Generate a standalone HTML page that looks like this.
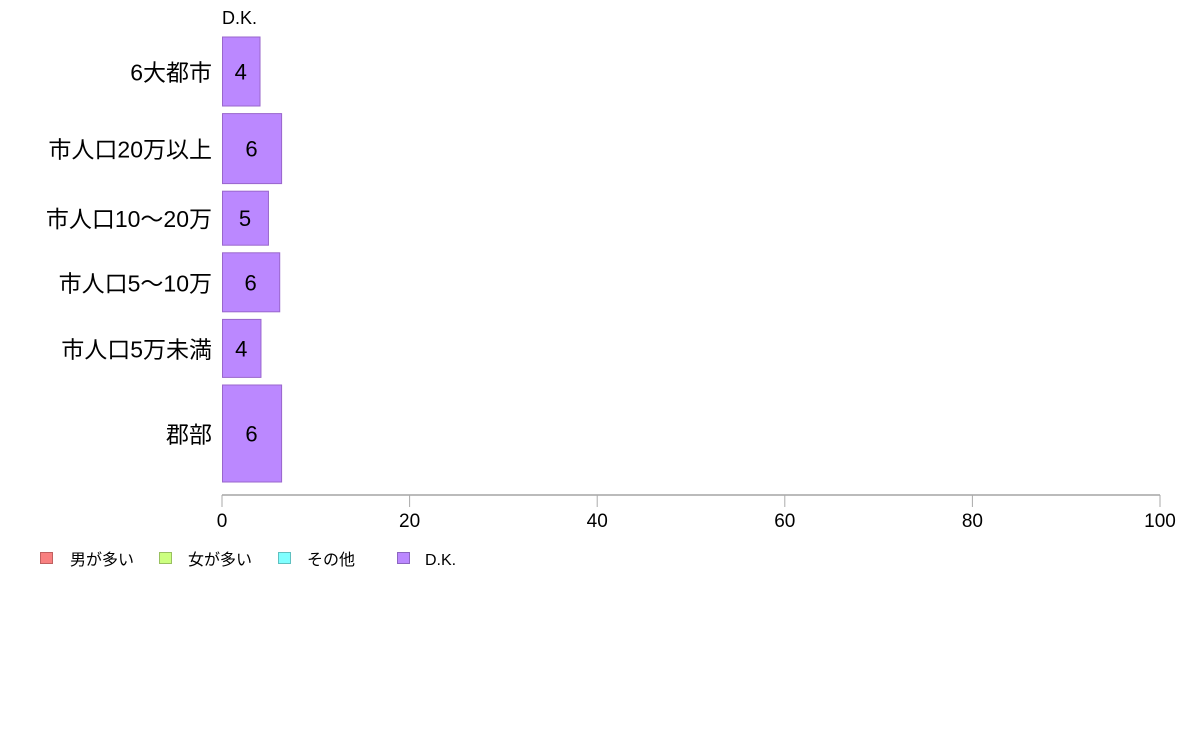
<!DOCTYPE html>
<html><head><meta charset="utf-8"><style>
body{margin:0;background:#fff;}
svg{display:block;font-family:"Liberation Sans","Noto Sans CJK JP",sans-serif;}
</style></head><body>
<svg id="chart" width="1188" height="736">
<text x="222" y="24" font-size="18" fill="#000">D.K.</text>
<g id="bars"></g>
<line x1="222" y1="495" x2="1160" y2="495" stroke="#777" stroke-width="1"/>
<g id="xticks"></g>
<g>
<rect x="40.5" y="552.5" width="12" height="11" fill="#f88080" stroke="#c06060"/>
<text x="70" y="565" font-size="16">男が多い</text>
<rect x="159.5" y="552.5" width="12" height="11" fill="#ccff80" stroke="#99c060"/>
<text x="188" y="565" font-size="16">女が多い</text>
<rect x="278.5" y="552.5" width="12" height="11" fill="#80ffff" stroke="#60c0c0"/>
<text x="307" y="565" font-size="16">その他</text>
<rect x="397.5" y="552.5" width="12" height="11" fill="#bb88ff" stroke="#8c66c0"/>
<text x="425" y="565" font-size="16">D.K.</text>
</g>
</svg>
<script>
const categories=["6大都市","市人口20万以上","市人口10〜20万","市人口5〜10万","市人口5万未満","郡部"];
const dkValues=[4.0,6.3,4.9,6.1,4.1,6.3];
const dkLabels=["4","6","5","6","4","6"];
const groupWeights=[69,70,54,59,58,97];
const xTicks=[0,20,40,60,80,100];
const NS="http://www.w3.org/2000/svg";
const plotX0=222,plotX1=1160,plotTop=37,plotBottom=482,barGap=7.6;
function xs(v){return plotX0+(v/100)*(plotX1-plotX0);}
const totalW=groupWeights.reduce((a,b)=>a+b,0);
const avail=plotBottom-plotTop-barGap*(categories.length-1);
const bars=document.getElementById('bars');
let yPos=plotTop;
categories.forEach((c,i)=>{
  const h=groupWeights[i]/totalW*avail;
  const r=document.createElementNS(NS,'rect');
  r.setAttribute('x',plotX0+0.5);r.setAttribute('y',yPos);
  r.setAttribute('width',xs(dkValues[i])-plotX0);r.setAttribute('height',h);
  r.setAttribute('fill','#bb88ff');r.setAttribute('stroke','#9966cc');
  
  
  bars.appendChild(r);
  const t=document.createElementNS(NS,'text');
  t.setAttribute('x',(plotX0+xs(dkValues[i]))/2);t.setAttribute('y',yPos+h/2+8);
  t.setAttribute('text-anchor','middle');t.setAttribute('font-size','22');
  t.textContent=dkLabels[i];
  
  
  bars.appendChild(t);
  const l=document.createElementNS(NS,'text');
  l.setAttribute('x',212);l.setAttribute('y',yPos+h/2+9);
  l.setAttribute('text-anchor','end');l.setAttribute('font-size','23');
  l.textContent=c;
  
  
  bars.appendChild(l);
  yPos+=h+barGap;
});
const xt=document.getElementById('xticks');
xTicks.forEach(v=>{
  const ln=document.createElementNS(NS,'line');
  ln.setAttribute('x1',xs(v));ln.setAttribute('x2',xs(v));
  ln.setAttribute('y1',495);ln.setAttribute('y2',507);
  ln.setAttribute('stroke','#aaa');
  
  
  xt.appendChild(ln);
  const t=document.createElementNS(NS,'text');
  t.setAttribute('x',xs(v));t.setAttribute('y',527);
  t.setAttribute('text-anchor','middle');t.setAttribute('font-size','19');
  t.textContent=v;
  
  
  xt.appendChild(t);
});
</script>
</body></html>
